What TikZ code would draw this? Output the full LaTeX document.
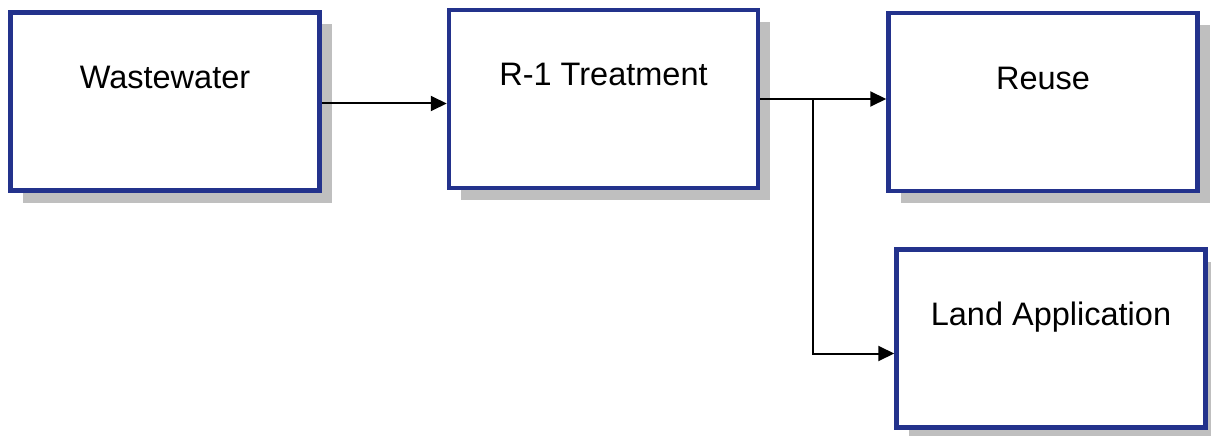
\documentclass[tikz,border=0pt]{standalone}
\usepackage{fontspec}
\setmainfont{Liberation Sans}
\usepackage{tikz}
\usetikzlibrary{arrows.meta}
\usetikzlibrary{shadows}
\usetikzlibrary{positioning}

\definecolor{boxblue}{RGB}{35,50,140}

\tikzset{
	stage/.style={draw=boxblue, line width=4.5pt, fill=white,
		minimum width=309pt, minimum height=178pt,
		text height=22pt, text depth=48pt,
		font=\fontsize{32.5}{38}\selectfont,
		drop shadow={shadow xshift=12pt, shadow yshift=-12pt, fill=black!25, opacity=1}},
	flow/.style={line width=2pt, -{Triangle[length=16pt,width=15pt]}}
}

\begin{document}
\begin{tikzpicture}[x=1pt,y=-1pt]
			\useasboundingbox (0,0) rectangle (1211,436);
			\node[stage] (Wastewater) at (165,101.5) {Wastewater};
			\node[stage] (Treatment) [right=125pt of Wastewater, yshift=2.5pt] {R-1 Treatment};
			\node[stage] (Reuse) [right=126pt of Treatment, yshift=-3pt] {Reuse};
			\node[stage] (Land) [below=54pt of Reuse, xshift=8pt] {Land Application};
			
			\coordinate (split) at ([xshift=53pt]Treatment.east);
			
			\draw[flow] ([yshift=-2pt]Wastewater.east) -- ([yshift=-2pt]Wastewater.east -| Treatment.west);
			\draw[flow] (Treatment.east) -- (Treatment.east -| Reuse.west);
			\draw[flow] (split) |- ([yshift=-15pt]Land.west);
		\end{tikzpicture}
\end{document}
